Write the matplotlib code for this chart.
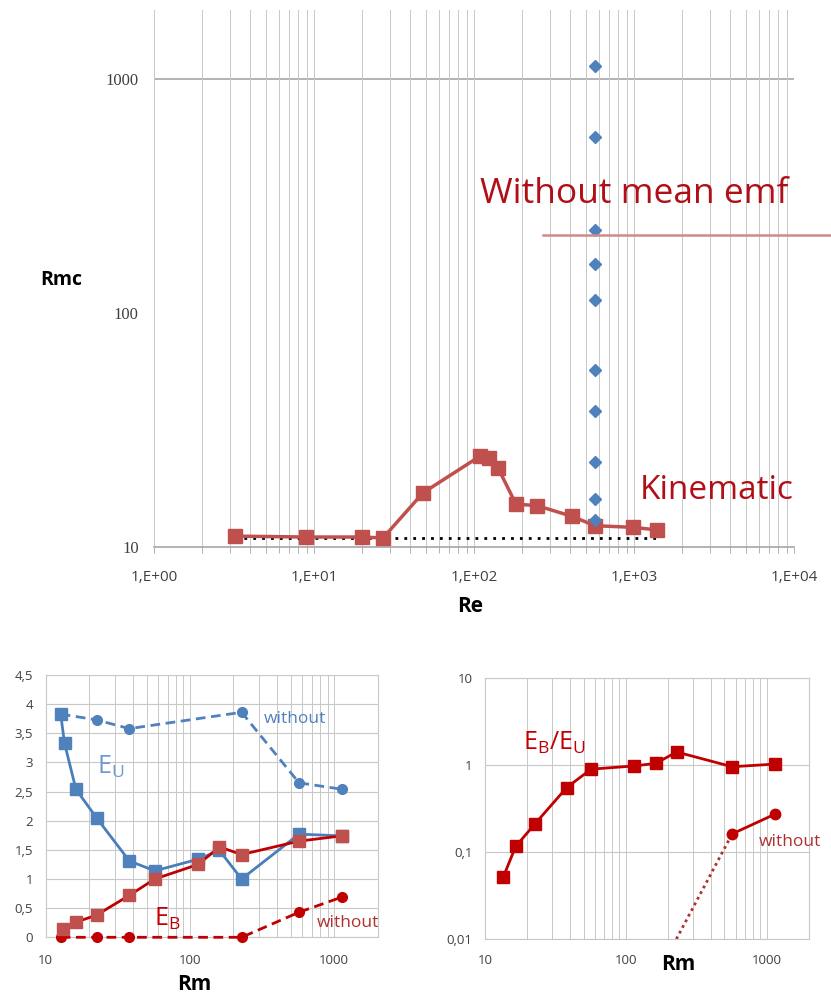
import numpy as np
import matplotlib.pyplot as plt
from matplotlib.ticker import FixedLocator, LogLocator, FuncFormatter, NullFormatter
from matplotlib.lines import Line2D

plt.rcParams['font.family'] = ['Open Sans', 'DejaVu Sans']

# ---- top panel: Rmc vs Re ----
re_kin = [3.2, 8.9, 20, 27, 48, 109, 124, 141, 183, 247, 408, 570, 990, 1390]
rmc_kin = [11.1, 11.0, 11.0, 10.9, 17.0, 24.4, 23.9, 21.8, 15.2, 15.0, 13.5, 12.3, 12.1, 11.8]
re_emf = [570, 570, 570, 570, 570, 570, 570, 570, 570, 570]
rmc_emf = [1140, 565, 226, 162, 114, 57, 38, 23, 16, 13]
re_ref = [3.2, 1390]
rmc_ref = [10.9, 10.9]
re_ticks = [1, 10, 100, 1000, 10000]
re_ticklabels = ['1,E+00', '1,E+01', '1,E+02', '1,E+03', '1,E+04']
rmc_ticks = [10, 100, 1000]

# ---- bottom left: energies vs Rm ----
rm_u = [12.7, 13.5, 16.2, 22.5, 38, 57, 114, 160, 228, 570, 1130]
eu = [3.83, 3.33, 2.54, 2.05, 1.31, 1.14, 1.34, 1.49, 1.0, 1.77, 1.74]
rm_b = [13.2, 16.2, 22.5, 38, 57, 114, 160, 228, 570, 1130]
eb = [0.14, 0.26, 0.38, 0.72, 1.0, 1.25, 1.55, 1.42, 1.65, 1.74]
rm_wo = [12.7, 22.5, 38, 228, 570, 1130]
eu_wo = [3.83, 3.73, 3.58, 3.86, 2.65, 2.54]
eb_wo = [0, 0, 0, 0, 0.43, 0.69]

# ---- bottom right: EB/EU vs Rm ----
rm_ratio = [13.5, 16.5, 22.6, 38, 56.5, 114, 163, 229, 567, 1140]
ratio = [0.052, 0.116, 0.211, 0.553, 0.90, 0.98, 1.05, 1.42, 0.96, 1.03]
rm_ratio_wo = [228, 567, 1140]
ratio_wo = [0.01, 0.162, 0.273]

BLUE = '#4f81bd'
RED_M = '#c0504d'
DRED = '#c00000'
GRID = '#c8c8c8'
TXT = '#404040'

fig = plt.figure(figsize=(8.31, 9.96), dpi=100)


def comma(v, pos):
    s = ('%g' % v)
    return s.replace('.', ',')


def log_x_grid(ax):
    ax.set_xscale('log')
    ax.xaxis.set_minor_locator(LogLocator(base=10, subs=np.arange(2, 11)))
    ax.xaxis.remove_overlapping_locs = False
    ax.xaxis.set_minor_formatter(NullFormatter())
    ax.grid(True, axis='x', which='minor', color=GRID, lw=0.7)
    ax.grid(False, axis='x', which='major')
    ax.tick_params(axis='x', which='minor', length=0)


# top chart
ax = fig.add_axes([154 / 831, 1 - 546.7 / 996, 640 / 831, 536.7 / 996])
log_x_grid(ax)
ax.set_yscale('log')
ax.set_xlim(1, 10000)
ax.set_ylim(10, 10 ** 3.2966)
ax.xaxis.set_major_locator(FixedLocator(re_ticks))
ax.set_xticklabels(re_ticklabels)
ax.yaxis.set_major_locator(FixedLocator(rmc_ticks))
ax.yaxis.set_minor_locator(FixedLocator([]))
ax.set_yticklabels([str(t) for t in rmc_ticks], family='Liberation Serif', fontsize=12, color=TXT)
ax.axhline(1000, color='#a6a6a6', lw=1.2, zorder=1)
for s in ['top', 'right', 'left']:
    ax.spines[s].set_visible(False)
ax.spines['bottom'].set_color('#a6a6a6')
ax.spines['bottom'].set_linewidth(1.2)
ax.tick_params(axis='y', length=0, pad=11)
ax.tick_params(axis='x', which='major', length=0, pad=17, labelsize=11, labelcolor=TXT)
ax.tick_params(axis='x', which='minor', length=4, color='#a6a6a6')

ax.plot(re_ref, rmc_ref, color='black', lw=2, ls=(0, (1, 2.2)), zorder=3)
ax.plot(re_kin, rmc_kin, color=RED_M, lw=2.5, marker='s', ms=9.5, zorder=4, clip_on=False)
ax.plot(re_emf, rmc_emf, ls='none', marker='D', ms=6, color=BLUE, zorder=5)

fig.text(480 / 831, 1 - 194 / 996, 'Without mean emf', color='#b00f18', fontsize=25.5, va='center')
fig.add_artist(Line2D([543 / 831, 1.0], [1 - 235 / 996, 1 - 235 / 996], color='#d08a88', lw=1.8))
fig.text(640 / 831, 1 - 490 / 996, 'Kinematic', color='#b00f18', fontsize=24, va='center')
fig.text(61 / 831, 1 - 280 / 996, 'Rmc', fontsize=14, weight='bold', ha='center', va='center')
fig.text(470 / 831, 1 - 606 / 996, 'Re', fontsize=15, weight='bold', ha='center', va='center')

# bottom left chart
ax2 = fig.add_axes([45.7 / 831, 1 - 937.3 / 996, 332 / 831, 262.3 / 996])
log_x_grid(ax2)
ax2.set_xlim(10, 2000)
ax2.set_ylim(0, 4.5)
ax2.xaxis.set_major_locator(FixedLocator([10, 100, 1000]))
ax2.xaxis.set_major_formatter(FuncFormatter(comma))
ax2.yaxis.set_major_locator(FixedLocator(np.arange(0, 4.51, 0.5)))
ax2.yaxis.set_major_formatter(FuncFormatter(comma))
ax2.grid(True, axis='y', color=GRID, lw=0.8)
ax2.tick_params(axis='both', which='major', length=0, labelsize=9.5, labelcolor=TXT)
ax2.tick_params(axis='y', pad=9)
ax2.tick_params(axis='x', pad=12)
for s in ax2.spines.values():
    s.set_color(GRID)
    s.set_linewidth(0.8)
ax2.set_axisbelow(True)

ax2.plot(rm_wo, eu_wo, color=BLUE, lw=2, ls=(0, (3.5, 2)), marker='o', ms=7, zorder=3)
ax2.plot(rm_wo, eb_wo, color=DRED, lw=2, ls=(0, (3.5, 2)), marker='o', ms=7, zorder=3, clip_on=False)
ax2.plot(rm_u, eu, color='#4a7ebb', lw=2, marker='s', ms=8.5, mfc=BLUE, mec=BLUE, zorder=4)
ax2.plot(rm_b, eb, color=DRED, lw=2, marker='s', ms=8.5, mfc=RED_M, mec=RED_M, zorder=5)

fig.text(97 / 831, 1 - 767 / 996, r'E$_\mathregular{U}$', color='#6b9bd2', fontsize=18, va='center')
fig.text(154 / 831, 1 - 919 / 996, r'E$_\mathregular{B}$', color=DRED, fontsize=18, va='center')
fig.text(295 / 831, 1 - 719 / 996, 'without', color=BLUE, fontsize=12.5, ha='center', va='center')
fig.text(348 / 831, 1 - 923 / 996, 'without', color='#b03030', fontsize=12.5, ha='center', va='center')
fig.text(194 / 831, 1 - 984 / 996, 'Rm', fontsize=15, weight='bold', ha='center', va='center')

# bottom right chart
ax3 = fig.add_axes([485 / 831, 1 - 939 / 996, 324.3 / 831, 260.7 / 996])
log_x_grid(ax3)
ax3.set_yscale('log')
ax3.set_xlim(10, 2000)
ax3.set_ylim(0.01, 10)
ax3.xaxis.set_major_locator(FixedLocator([10, 100, 1000]))
ax3.xaxis.set_major_formatter(FuncFormatter(comma))
ax3.yaxis.set_major_locator(FixedLocator([0.01, 0.1, 1, 10]))
ax3.yaxis.set_minor_locator(FixedLocator([]))
ax3.yaxis.set_major_formatter(FuncFormatter(comma))
ax3.grid(True, axis='y', which='major', color=GRID, lw=0.8)
ax3.tick_params(axis='both', which='major', length=0, labelsize=9.5, labelcolor=TXT)
ax3.tick_params(axis='y', pad=9)
ax3.tick_params(axis='x', pad=11)
for s in ax3.spines.values():
    s.set_color(GRID)
    s.set_linewidth(0.8)
ax3.set_axisbelow(True)

ax3.plot(rm_ratio_wo[:2], ratio_wo[:2], color='#b03030', lw=2, ls=(0, (1, 1.3)), zorder=3)
ax3.plot(rm_ratio_wo[1:], ratio_wo[1:], color=DRED, lw=2, marker='o', ms=7.5, zorder=3)
ax3.plot(rm_ratio, ratio, color=DRED, lw=2, marker='s', ms=8.5, zorder=4)

fig.text(554 / 831, 1 - 743 / 996, r'E$_\mathregular{B}$/E$_\mathregular{U}$', color=DRED, fontsize=18,
         ha='center', va='center')
fig.text(790 / 831, 1 - 842 / 996, 'without', color='#b03030', fontsize=12.5, ha='center', va='center')
fig.text(678 / 831, 1 - 965 / 996, 'Rm', fontsize=15, weight='bold', ha='center', va='center')

fig.savefig('out.png', dpi=100)
